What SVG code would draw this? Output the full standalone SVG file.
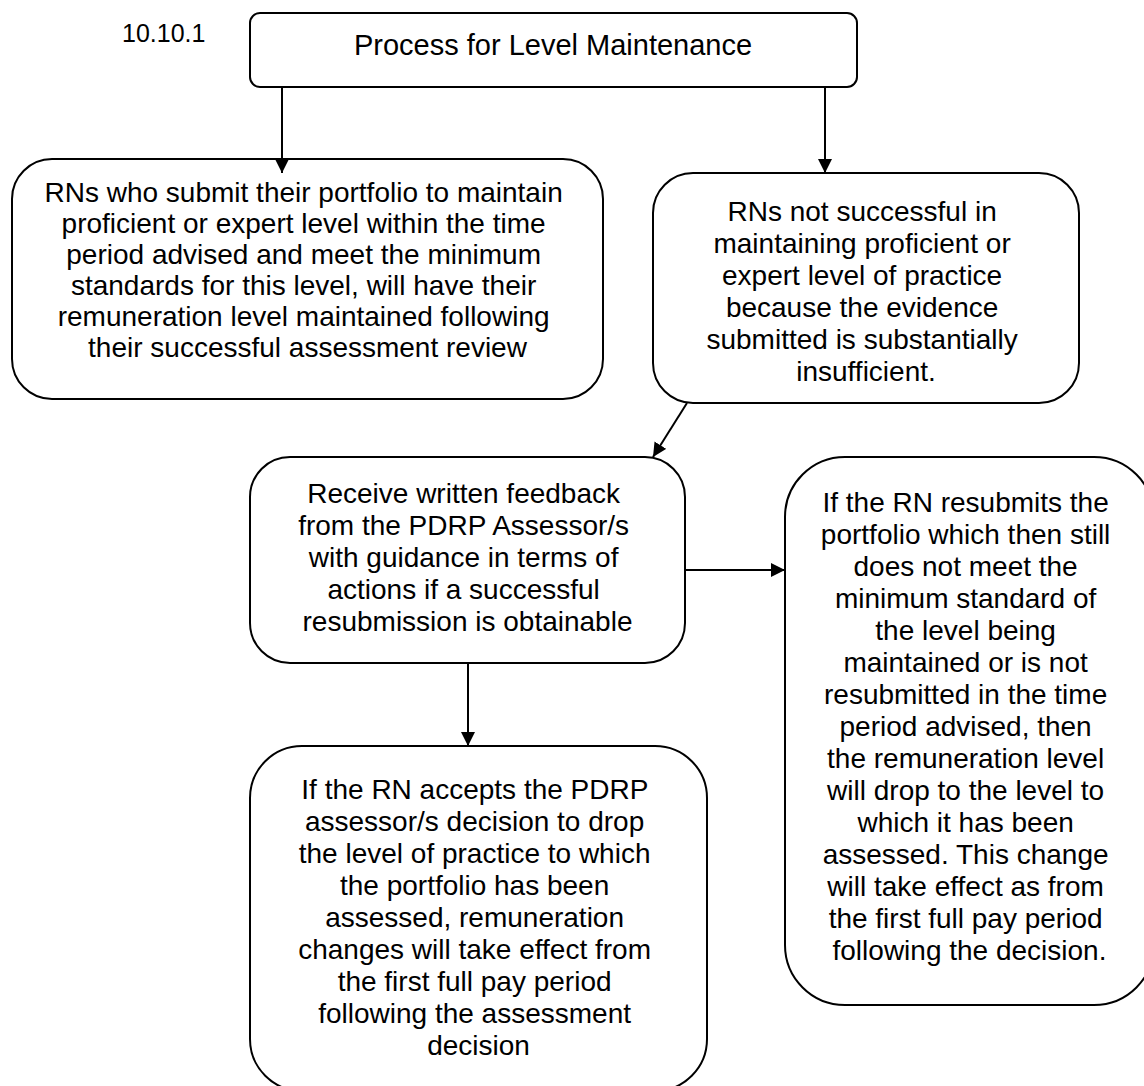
<svg xmlns="http://www.w3.org/2000/svg" width="1144" height="1086" viewBox="0 0 1144 1086">
<style>
.box{fill:#fff;stroke:#000;stroke-width:2}
.t{font-family:"Liberation Sans",Arial,sans-serif;font-size:28px;fill:#000;text-anchor:middle}
.c{stroke:#000;stroke-width:2;fill:none;marker-end:url(#ah)}
</style>
<defs>
<marker id="ah" viewBox="0 0 14 14" refX="14" refY="7" markerWidth="14" markerHeight="14" orient="auto" markerUnits="userSpaceOnUse">
<path d="M0,0 L14,7 L0,14 z" fill="#000"/>
</marker>
</defs>
<rect width="1144" height="1086" fill="#fff"/>
<text x="122" y="42" font-family="Liberation Sans, Arial, sans-serif" font-size="25" fill="#000">10.10.1</text>
<g id="title">
<rect class="box" x="250" y="13" width="607" height="74" rx="10"/>
<text class="t" x="553" y="55" style="font-size:29px">Process for Level Maintenance</text>
</g>
<g id="maintained">
<rect class="box" x="12" y="159" width="591" height="240" rx="40"/>
<text class="t" x="307.5" y="202">
<tspan x="307.5" dy="0">RNs who submit their portfolio to maintain</tspan>
<tspan x="307.5" dy="31">proficient or expert level within the time</tspan>
<tspan x="307.5" dy="31">period advised and meet the minimum</tspan>
<tspan x="307.5" dy="31">standards for this level, will have their</tspan>
<tspan x="307.5" dy="31">remuneration level maintained following</tspan>
<tspan x="307.5" dy="31">their successful assessment review</tspan>
</text>
</g>
<g id="not-successful">
<rect class="box" x="653" y="173" width="426" height="230" rx="40"/>
<text class="t" x="866" y="221">
<tspan x="866" dy="0">RNs not successful in</tspan>
<tspan x="866" dy="32">maintaining proficient or</tspan>
<tspan x="866" dy="32">expert level of practice</tspan>
<tspan x="866" dy="32">because the evidence</tspan>
<tspan x="866" dy="32">submitted is substantially</tspan>
<tspan x="866" dy="32">insufficient.</tspan>
</text>
</g>
<g id="feedback">
<rect class="box" x="250" y="457" width="435" height="206" rx="40"/>
<text class="t" x="467.5" y="503">
<tspan x="467.5" dy="0">Receive written feedback</tspan>
<tspan x="467.5" dy="32">from the PDRP Assessor/s</tspan>
<tspan x="467.5" dy="32">with guidance in terms of</tspan>
<tspan x="467.5" dy="32">actions if a successful</tspan>
<tspan x="467.5" dy="32">resubmission is obtainable</tspan>
</text>
</g>
<g id="resubmit">
<rect class="box" x="785" y="457" width="369" height="548" rx="60"/>
<text class="t" x="969.5" y="512">
<tspan x="969.5" dy="0">If the RN resubmits the</tspan>
<tspan x="969.5" dy="32">portfolio which then still</tspan>
<tspan x="969.5" dy="32">does not meet the</tspan>
<tspan x="969.5" dy="32">minimum standard of</tspan>
<tspan x="969.5" dy="32">the level being</tspan>
<tspan x="969.5" dy="32">maintained or is not</tspan>
<tspan x="969.5" dy="32">resubmitted in the time</tspan>
<tspan x="969.5" dy="32">period advised, then</tspan>
<tspan x="969.5" dy="32">the remuneration level</tspan>
<tspan x="969.5" dy="32">will drop to the level to</tspan>
<tspan x="969.5" dy="32">which it has been</tspan>
<tspan x="969.5" dy="32">assessed. This change</tspan>
<tspan x="969.5" dy="32">will take effect as from</tspan>
<tspan x="969.5" dy="32">the first full pay period</tspan>
<tspan x="969.5" dy="32">following the decision.</tspan>
</text>
</g>
<g id="accepts">
<rect class="box" x="250" y="746" width="457" height="345" rx="52"/>
<text class="t" x="478.5" y="799">
<tspan x="478.5" dy="0">If the RN accepts the PDRP</tspan>
<tspan x="478.5" dy="32">assessor/s decision to drop</tspan>
<tspan x="478.5" dy="32">the level of practice to which</tspan>
<tspan x="478.5" dy="32">the portfolio has been</tspan>
<tspan x="478.5" dy="32">assessed, remuneration</tspan>
<tspan x="478.5" dy="32">changes will take effect from</tspan>
<tspan x="478.5" dy="32">the first full pay period</tspan>
<tspan x="478.5" dy="32">following the assessment</tspan>
<tspan x="478.5" dy="32">decision</tspan>
</text>
</g>
<g id="connectors">
<line class="c" x1="282" y1="87" x2="282" y2="173"/>
<line class="c" x1="825" y1="87" x2="825" y2="173"/>
<line class="c" x1="687" y1="403" x2="653" y2="457"/>
<line class="c" x1="685" y1="570" x2="785" y2="570"/>
<line class="c" x1="468" y1="663" x2="468" y2="746"/>
</g>
</svg>
